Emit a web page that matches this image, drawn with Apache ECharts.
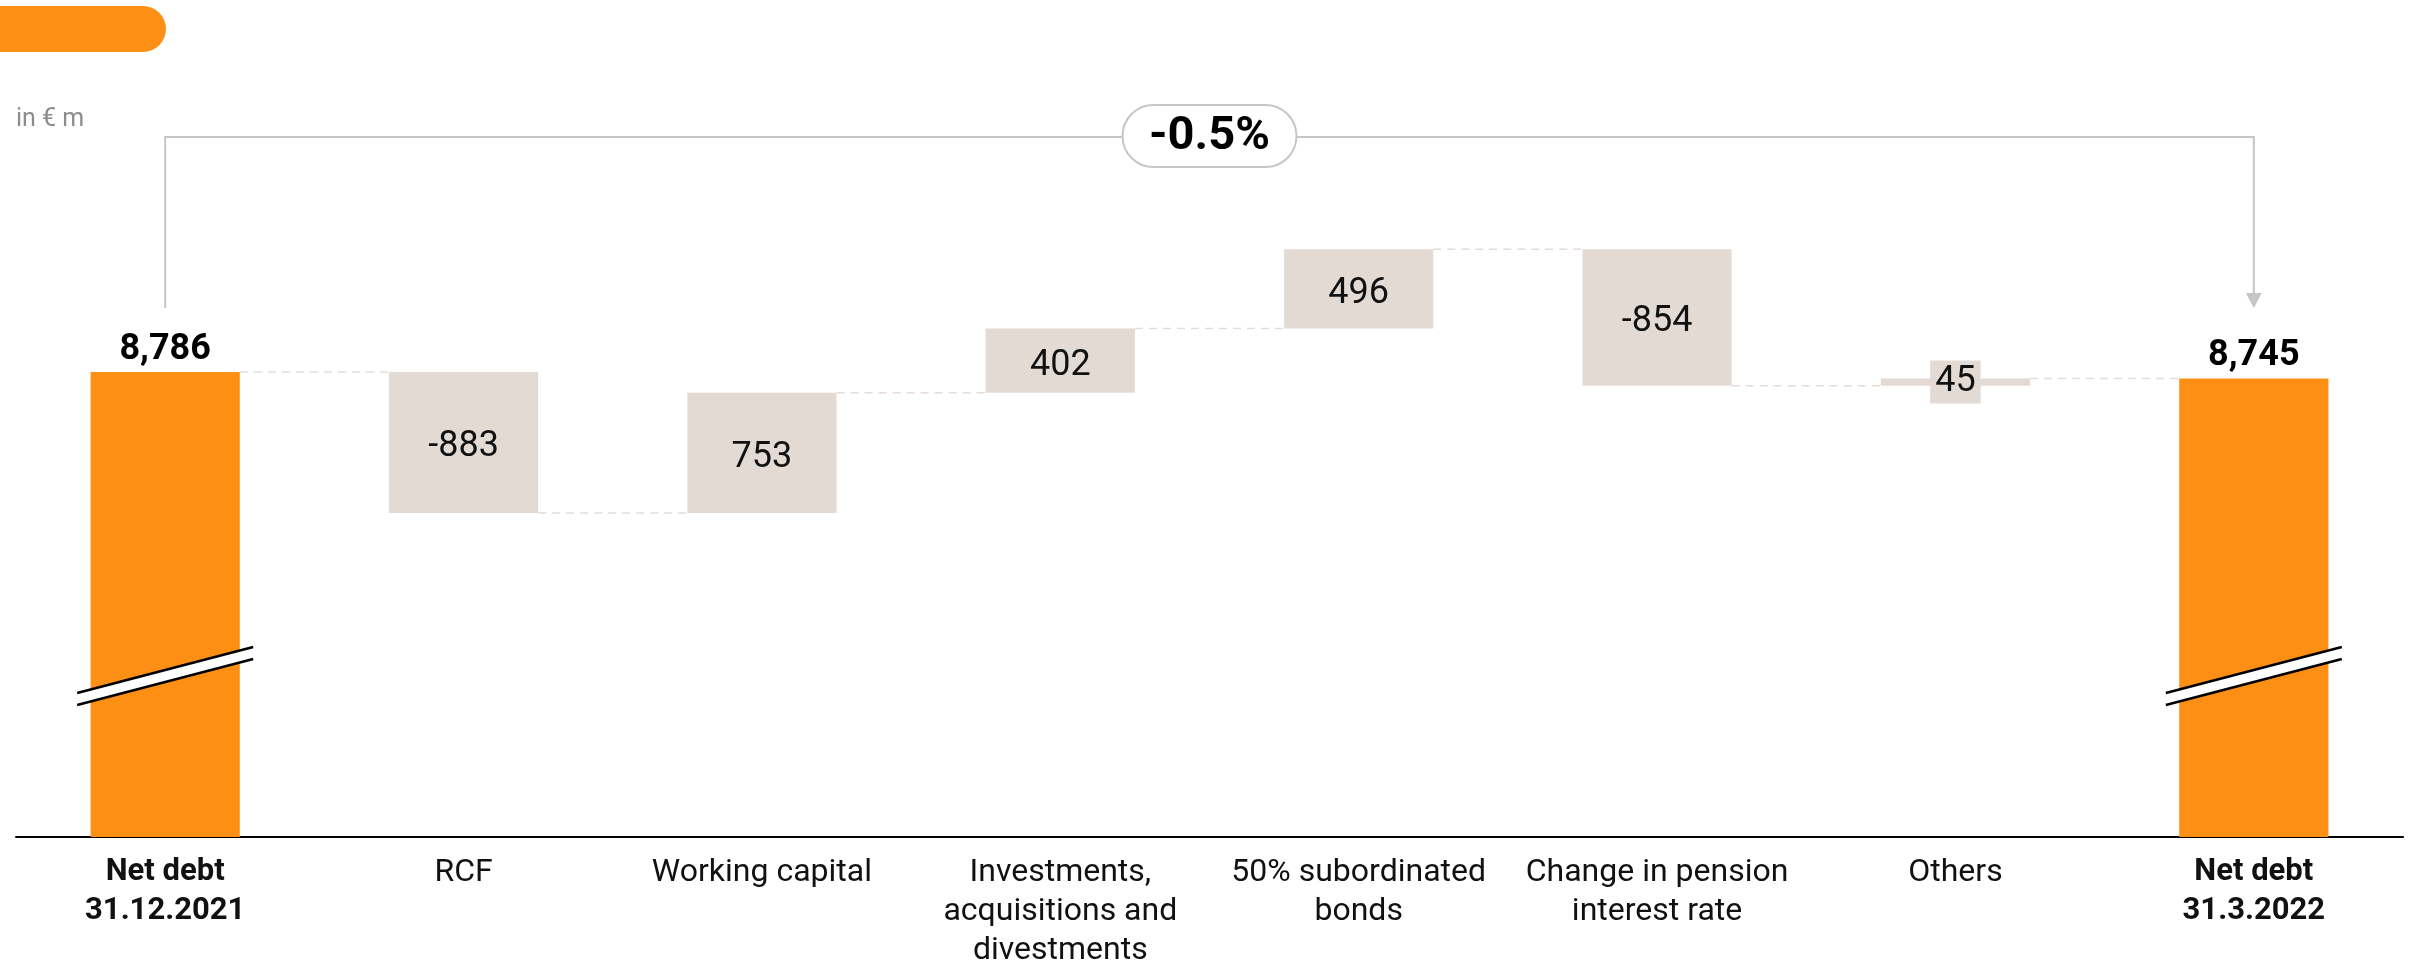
<!DOCTYPE html>
<html>
<head>
<meta charset="utf-8">
<title>Net debt bridge</title>
<script src="https://cdn.jsdelivr.net/npm/echarts@6/dist/echarts.min.js"></script>
<style>
    html, body { margin: 0; padding: 0; background: #ffffff; }
    #chart { width: 2412px; height: 960px; }
</style>
</head>
<body>
<div id="chart"></div>
<script>
// data
const categories = [
    'Net debt\n31.12.2021',
    'RCF',
    'Working capital',
    'Investments,\nacquisitions and\ndivestments',
    '50% subordinated\nbonds',
    'Change in pension\ninterest rate',
    'Others',
    'Net debt\n31.3.2022'
];
const startValue = 8786;
const endValue = 8745;
const changes = [-883, 753, 402, 496, -854, 45];
// where the axis break is drawn on the two total bars
const breakAt = 6883;

const orange = '#fd8f14';
const beige = '#e3dad4';
const font = 'Roboto';

// running totals -> invisible base + visible height for each bar
const baseData = [0];
const barData = [startValue];
const totals = [startValue];
let running = startValue;
for (const d of changes) {
    const next = running + d;
    baseData.push(Math.min(running, next));
    barData.push(Math.abs(d));
    totals.push(next);
    running = next;
}
baseData.push(0);
barData.push(endValue);

const fmt = v => v.toLocaleString('en-US');
const pct = ((endValue - startValue) / startValue * 100).toFixed(1) + '%';

const chart = echarts.init(document.getElementById('chart'));

const option = {
    animation: false,
    textStyle: { fontFamily: font },
    grid: { left: 16, right: 9, top: 138, bottom: 123, outerBoundsMode: 'none' },
    graphic: [
        {
            type: 'rect',
            shape: { x: -30, y: 6, width: 196, height: 46, r: 23 },
            style: { fill: orange }
        },
        {
            type: 'text',
            left: 16,
            top: 107,
            style: { text: 'in € m', fill: '#8c8c8c', font: '25px ' + font }
        }
    ],
    xAxis: {
        type: 'category',
        data: categories,
        axisLine: { lineStyle: { color: '#000', width: 2 } },
        axisTick: { show: false },
        axisLabel: {
            interval: 0,
            margin: 16,
            color: '#111',
            fontSize: 32,
            lineHeight: 39,
            formatter: (val, idx) => {
                if (idx === 0 || idx === categories.length - 1) {
                    return val.split('\n').map(s => '{b|' + s + '}').join('\n');
                }
                return val;
            },
            rich: {
                b: { fontWeight: 'bold', fontSize: 31, lineHeight: 39, color: '#111' }
            }
        }
    },
    yAxis: {
        type: 'value',
        min: 5875,
        max: 10250,
        show: false,
        splitLine: { show: false }
    },
    series: [
        {
            name: 'base',
            type: 'bar',
            stack: 'w',
            barWidth: '50%',
            itemStyle: { color: 'transparent' },
            data: baseData
        },
        {
            name: 'value',
            type: 'bar',
            stack: 'w',
            barWidth: '50%',
            data: barData.map((v, i) => {
                const isTotal = i === 0 || i === barData.length - 1;
                const item = {
                    value: v,
                    itemStyle: { color: isTotal ? orange : beige }
                };
                if (isTotal) {
                    item.label = {
                        show: true,
                        position: 'top',
                        distance: 4,
                        fontSize: 36,
                        fontWeight: 'bold',
                        color: '#000',
                        formatter: () => fmt(v)
                    };
                } else {
                    const d = changes[i - 1];
                    item.label = {
                        show: true,
                        position: 'inside',
                        offset: [0, 5],
                        fontSize: 36,
                        color: '#111',
                        formatter: () => String(d)
                    };
                    // small change: label box sticks out of the bar
                    if (Math.abs(d) < 100) {
                        item.label.offset = [0, 0];
                        item.label.backgroundColor = beige;
                        item.label.padding = [4, 5, 3, 5];
                    }
                }
                return item;
            })
        },
        {
            // dashed connectors between bars
            name: 'connectors',
            type: 'custom',
            z: 1,
            data: totals.map((t, i) => [i, t]),
            renderItem: (params, api) => {
                const p = api.coord([api.value(0), api.value(1)]);
                const band = api.size([1, 0])[0];
                return {
                    type: 'line',
                    shape: { x1: p[0] + band * 0.25, y1: p[1], x2: p[0] + band * 0.75, y2: p[1] },
                    style: { stroke: '#e6dcd6', lineWidth: 1.5, lineDash: [8, 6] }
                };
            }
        },
        {
            // axis break marks on the total bars
            name: 'breaks',
            type: 'custom',
            z: 5,
            data: [[0, breakAt], [categories.length - 1, breakAt]],
            renderItem: (params, api) => {
                const p = api.coord([api.value(0), api.value(1)]);
                const x0 = p[0] - 88, x1 = p[0] + 88, y = p[1];
                return {
                    type: 'group',
                    children: [
                        {
                            type: 'polygon',
                            shape: { points: [[x0, y + 17], [x1, y - 29], [x1, y - 17], [x0, y + 29]] },
                            style: { fill: '#fff' }
                        },
                        {
                            type: 'line',
                            shape: { x1: x0, y1: y + 17, x2: x1, y2: y - 29 },
                            style: { stroke: '#000', lineWidth: 2.5 }
                        },
                        {
                            type: 'line',
                            shape: { x1: x0, y1: y + 29, x2: x1, y2: y - 17 },
                            style: { stroke: '#000', lineWidth: 2.5 }
                        }
                    ]
                };
            }
        },
        {
            // bracket with the percentage change
            name: 'bracket',
            type: 'custom',
            z: 5,
            data: [[0, startValue, categories.length - 1, endValue]],
            renderItem: (params, api) => {
                const a = api.coord([api.value(0), api.value(1)]);
                const b = api.coord([api.value(2), api.value(3)]);
                const topY = 137;
                const endY = Math.min(a[1], b[1]) - 64;
                const midX = (a[0] + b[0]) / 2;
                const grey = '#c6c6c6';
                return {
                    type: 'group',
                    children: [
                        {
                            type: 'polyline',
                            shape: { points: [[a[0], endY], [a[0], topY], [b[0], topY], [b[0], endY - 14]] },
                            style: { stroke: grey, lineWidth: 2, fill: null }
                        },
                        {
                            type: 'polygon',
                            shape: { points: [[b[0] - 8, endY - 15], [b[0] + 8, endY - 15], [b[0], endY]] },
                            style: { fill: grey }
                        },
                        {
                            type: 'rect',
                            shape: { x: midX - 87, y: topY - 32, width: 174, height: 62, r: 31 },
                            style: { fill: '#fff', stroke: grey, lineWidth: 2 }
                        },
                        {
                            type: 'text',
                            x: midX,
                            y: topY,
                            style: {
                                text: pct,
                                font: 'bold 47px ' + font,
                                fill: '#000',
                                align: 'center',
                                verticalAlign: 'middle'
                            }
                        }
                    ]
                };
            }
        }
    ]
};

chart.setOption(option);
</script>
</body>
</html>
